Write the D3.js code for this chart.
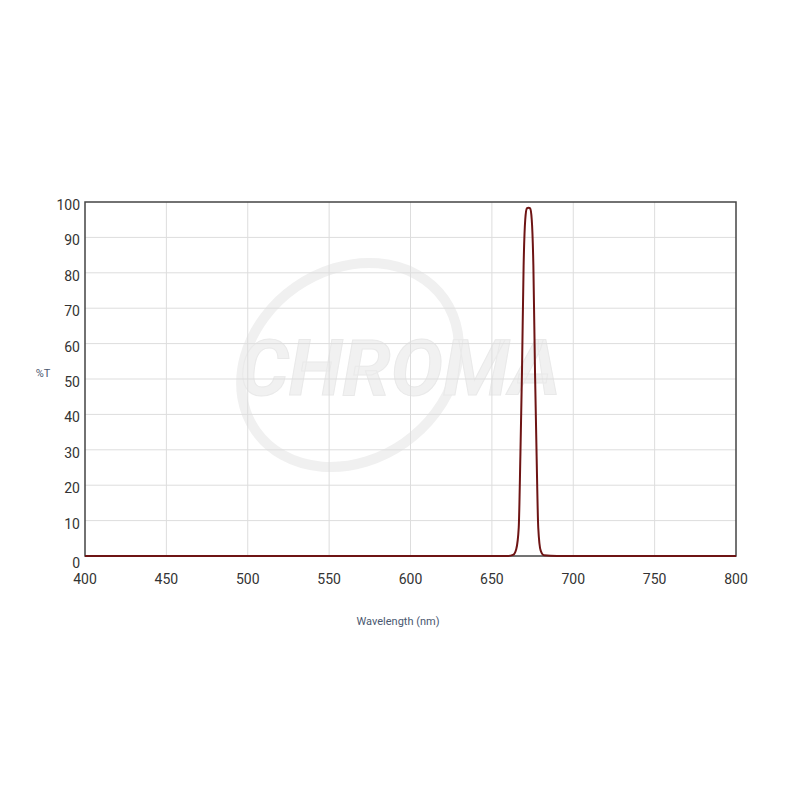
<!DOCTYPE html>
<html><head><meta charset="utf-8">
<script src="https://cdn.jsdelivr.net/npm/d3@7"></script>
<style>body{margin:0;background:#fff}</style>
</head><body>
<script>
const wavelengths = [400, 500, 600, 660, 663, 665, 666.5, 667.5, 668.5, 669.5, 670.5, 671.5, 672.5, 673.5, 674.5, 675.5, 676.5, 677.5, 678.5, 680, 682, 690, 750, 800];
const transmission = [0, 0, 0, 0, 0.3, 2, 8, 28, 52, 82, 95, 98.2, 98.4, 98.2, 95, 82, 52, 28, 8, 1.5, 0.2, 0, 0, 0];
const xTicks = [400, 450, 500, 550, 600, 650, 700, 750, 800];
const yTicks = [0, 10, 20, 30, 40, 50, 60, 70, 80, 90, 100];

const svg = d3.select('body').append('svg').attr('width', 800).attr('height', 800);
const x = d3.scaleLinear().domain([400, 800]).range([85, 736]);
const y = d3.scaleLinear().domain([0, 100]).range([556, 202]);

// watermark
const wm = svg.append('g').attr('opacity', 0.55);
wm.append('ellipse').attr('cx', 350).attr('cy', 365).attr('rx', 115).attr('ry', 95)
  .attr('transform', 'rotate(-35 350 365)').attr('fill', 'none').attr('stroke', '#e4e4e4').attr('stroke-width', 10);
wm.append('text').attr('x', 400).attr('y', 395).attr('text-anchor', 'middle')
  .attr('font-family', 'Roboto').attr('font-weight', 'bold').attr('font-style', 'italic')
  .attr('font-size', 78).attr('fill', '#e6e6e6').attr('stroke', '#d8d8d8').text('CHROMA');

// grid
svg.selectAll('.vg').data(xTicks.slice(1, -1)).join('line')
  .attr('x1', d => x(d)).attr('x2', d => x(d)).attr('y1', 202).attr('y2', 556)
  .attr('stroke', '#dddddd');
svg.selectAll('.hg').data(yTicks.slice(1, -1)).join('line')
  .attr('y1', d => y(d)).attr('y2', d => y(d)).attr('x1', 85).attr('x2', 736)
  .attr('stroke', '#dddddd');
svg.append('rect').attr('x', 85).attr('y', 202).attr('width', 651).attr('height', 354)
  .attr('fill', 'none').attr('stroke', '#444').attr('stroke-width', 1.5);

// labels
svg.selectAll('.yl').data(yTicks).join('text')
  .attr('x', 80).attr('y', d => y(d) + (d === 0 ? 12 : 8)).attr('text-anchor', 'end')
  .attr('font-family', 'Roboto').attr('font-size', 14).attr('fill', '#333').text(d => d);
svg.selectAll('.xl').data(xTicks).join('text')
  .attr('x', d => x(d)).attr('y', 584).attr('text-anchor', 'middle')
  .attr('font-family', 'Roboto').attr('font-size', 14).attr('fill', '#333').text(d => d);
svg.append('text').attr('x', 43).attr('y', 377).attr('text-anchor', 'middle')
  .attr('font-family', 'Roboto').attr('font-size', 11).attr('fill', '#4a5870').text('%T');
svg.append('text').attr('x', 398).attr('y', 625).attr('text-anchor', 'middle')
  .attr('font-family', 'Roboto').attr('font-size', 11).attr('fill', '#4a5870').text('Wavelength (nm)');

// curve
const line = d3.line().x((d, i) => x(wavelengths[i])).y(d => y(d)).curve(d3.curveMonotoneX);
svg.append('path').datum(transmission).attr('d', line)
  .attr('fill', 'none').attr('stroke', '#6e1414').attr('stroke-width', 2);
</script>
</body></html>
